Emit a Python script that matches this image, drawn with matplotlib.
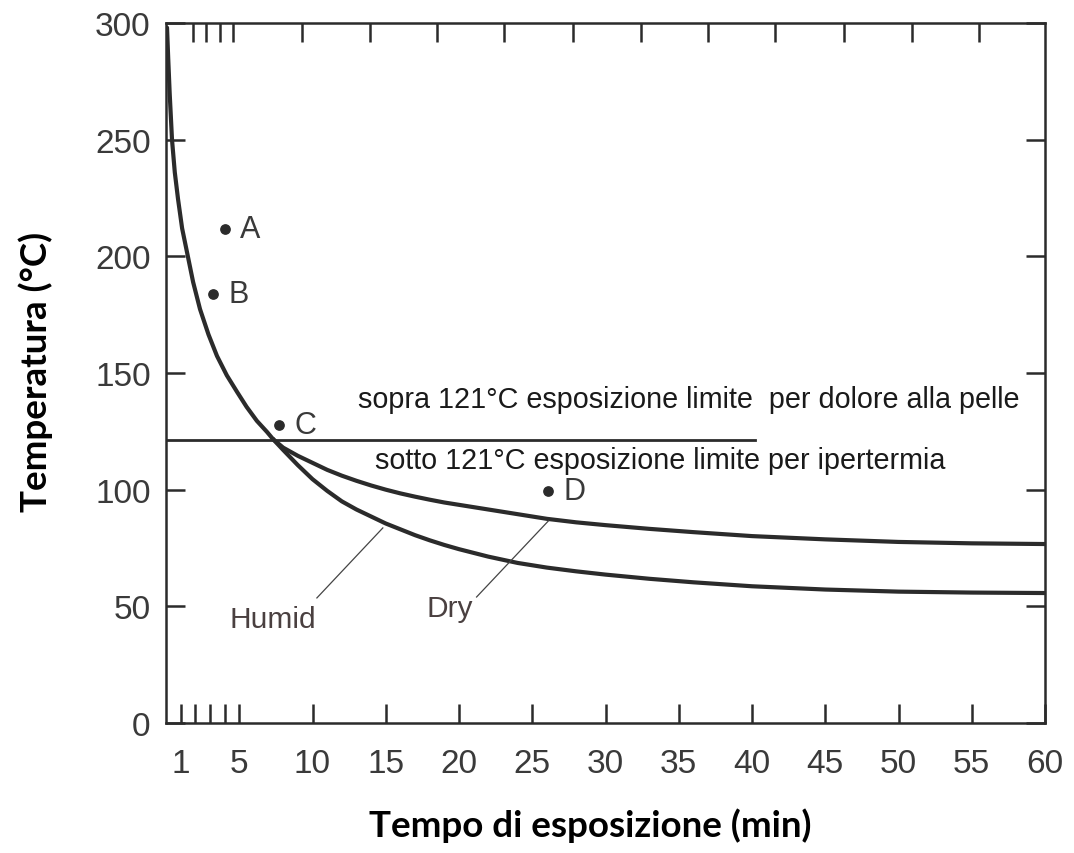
import matplotlib
matplotlib.use("Agg")
import matplotlib.pyplot as plt

# ---------------- data ----------------
common_x = [0.07, 0.15, 0.25, 0.41, 0.6, 0.82, 1.1, 1.43, 1.85, 2.32, 2.9, 3.48,
            4.15, 4.85, 5.5, 6.2, 6.9, 7.3]
common_y = [298, 285, 270, 250, 236, 224.6, 212, 201.9, 189, 177.4, 166.5, 157.3,
            149, 141.9, 135.5, 129.5, 124.7, 121.7]

dry_x = [7.3, 8, 9, 10, 11, 12, 13, 14, 15, 16, 17, 18, 19, 20, 22, 24, 26, 28,
         30, 33, 36, 40, 45, 50, 55, 60]
dry_y = [121.7, 118, 114.5, 111.5, 108.5, 106, 103.8, 101.8, 100, 98.4, 97, 95.7,
         94.5, 93.5, 91.5, 89.5, 87.5, 86, 84.8, 83.2, 81.8, 80.1, 78.7, 77.6,
         77, 76.7]

humid_x = [7.3, 8, 9, 10, 11, 12, 13, 14, 15, 16, 17, 18, 19, 20, 22, 24, 26, 28,
           30, 33, 36, 40, 45, 50, 55, 60]
humid_y = [121.7, 117, 110.5, 104.5, 99.5, 95, 91.5, 88.5, 85.5, 83, 80.5, 78.3,
           76.3, 74.5, 71.3, 68.6, 66.6, 65, 63.6, 61.8, 60.3, 58.6, 57.2, 56.3,
           55.9, 55.7]

point_labels = ["A", "B", "C", "D"]
point_x = [4.0, 3.2, 7.7, 26.1]
point_y = [211.7, 183.9, 127.7, 99.4]

limit_temp = 121.5
limit_end = 40.2

x_ticks = [1, 2, 3, 4, 5, 10, 15, 20, 25, 30, 35, 40, 45, 50, 55, 60]
x_ticklabels = ["1", "", "", "", "5", "10", "15", "20", "25", "30", "35", "40",
                "45", "50", "55", "60"]
top_ticks = [1.84, 2.73, 3.69, 4.57, 9.28, 13.9, 18.5, 23.1, 27.8, 32.4, 37.0,
             41.6, 46.3, 50.9, 55.5]
y_ticks = [0, 50, 100, 150, 200, 250, 300]

text_above = "sopra 121°C esposizione limite  per dolore alla pelle"
text_below = "sotto 121°C esposizione limite per ipertermia"
xlabel = "Tempo di esposizione (min)"
ylabel = "Temperatura (°C)"

# ---------------- figure ----------------
fig = plt.figure(figsize=(10.74, 8.54), dpi=100)
ax = fig.add_axes([166/1074, 1-724/854, (1045-166)/1074, (724-24)/854])
ax.set_xlim(0, 60)
ax.set_ylim(0, 300)

ink = "#2b2b2b"
lab = "#3a3a3a"

for xs, ys in ((common_x, common_y), (dry_x, dry_y), (humid_x, humid_y)):
    ax.plot(xs, ys, color=ink, lw=3.0, solid_capstyle="round",
            solid_joinstyle="round")

ax.plot([0, limit_end], [limit_temp, limit_temp], color=ink, lw=2.0)

ax.scatter(point_x, point_y, s=45, color=ink, zorder=5)
for lbl, px, py in zip(point_labels, point_x, point_y):
    ax.annotate(lbl, (px, py), xytext=(11, 0), textcoords="offset points",
                va="center", ha="left", fontsize=22, color=lab,
                family="Liberation Sans")

# leader lines
ax.plot([14.8, 10.3], [83.6, 53.6], color="#444444", lw=0.9)
ax.plot([26.1, 21.2], [86.6, 54.0], color="#444444", lw=0.9)
ax.text(7.3, 41.1, "Humid", ha="center", va="baseline", fontsize=21.5,
        color="#4a4040", family="Liberation Sans")
ax.text(19.4, 45.9, "Dry", ha="center", va="baseline", fontsize=21.5,
        color="#4a4040", family="Liberation Sans")

ax.text(13.1, 139, text_above, ha="left", va="center", fontsize=20.7,
        color="#1a1a1a", family="Liberation Sans")
ax.text(14.3, 112.7, text_below, ha="left", va="center", fontsize=20.7,
        color="#1a1a1a", family="Liberation Sans")

# spines & ticks
for sp in ax.spines.values():
    sp.set_color(ink)
    sp.set_linewidth(1.8)

ax.set_xticks(x_ticks)
ax.set_xticklabels(x_ticklabels)
ax.set_yticks(y_ticks)
ax.tick_params(axis="both", direction="in", length=14, width=1.8, color=ink,
               labelsize=24, labelcolor=lab)
ax.tick_params(axis="x", pad=18)
ax.tick_params(axis="y", pad=11, right=True)
for t in ax.get_xticklabels() + ax.get_yticklabels():
    t.set_family("Liberation Sans")

sec = ax.secondary_xaxis("top")
sec.set_xticks(top_ticks)
sec.set_xticklabels([])
sec.tick_params(direction="in", length=14, width=1.8, color=ink)
sec.spines["top"].set_visible(False)

fig.text(36/1074, 1-372/854, ylabel, rotation=90, ha="center", va="center",
         fontsize=26.5, fontweight="bold", family="Lato", color="black")
fig.text(590/1074, 1-826/854, xlabel, ha="center", va="center",
         fontsize=26.5, fontweight="bold", family="Lato", color="black")

fig.savefig("out.png", dpi=100)
